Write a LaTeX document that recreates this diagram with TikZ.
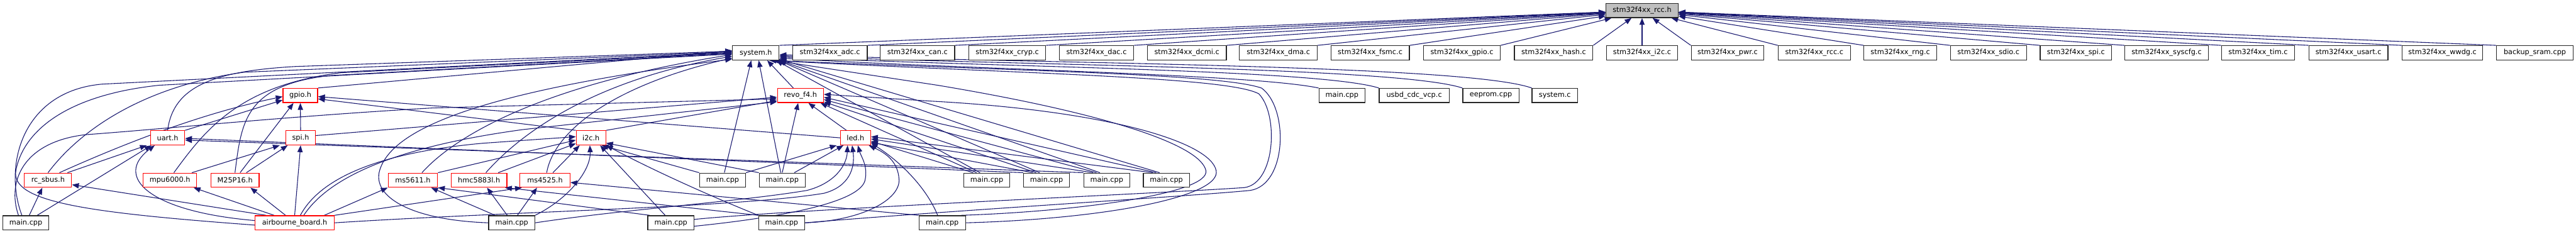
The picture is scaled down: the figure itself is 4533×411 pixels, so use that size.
\documentclass[tikz,border=0pt]{standalone}
\usepackage{fontspec}
\setmainfont{DejaVu Sans}
\usetikzlibrary{arrows.meta,backgrounds}
\definecolor{eblue}{HTML}{191970}
\begin{document}
\begin{tikzpicture}[x=0.5pt,y=-0.5pt,
  nb/.style={draw=black!85, line width=0.7pt, fill=white, minimum height=12.5pt, inner sep=0pt,
    font=\fontsize{6.25}{7}\selectfont, minimum width=#1*0.5pt},
  rb/.style={nb=#1, draw=red},
  edg/.style={draw=eblue, line width=0.6pt, -{Triangle[length=6pt,width=4.6pt]}}]
\useasboundingbox (0,0) rectangle (4533,411);
% ---- nodes ----
\node[nb=127, fill=black!25] (R) at (2889.5,18.5) {stm32f4xx\_rcc.h};
\node[nb=82] (S) at (1330,93) {system.h};
\node[nb=131] (adc) at (1460.5,93) {stm32f4xx\_adc.c};
\node[nb=131] (can) at (1614.5,93) {stm32f4xx\_can.c};
\node[nb=135] (cryp) at (1772.5,93) {stm32f4xx\_cryp.c};
\node[nb=131] (dac) at (1929.5,93) {stm32f4xx\_dac.c};
\node[nb=139] (dcmi) at (2088.5,93) {stm32f4xx\_dcmi.c};
\node[nb=137] (dma) at (2249.5,93) {stm32f4xx\_dma.c};
\node[nb=138] (fsmc) at (2411,93) {stm32f4xx\_fsmc.c};
\node[nb=135] (gpioc) at (2572.5,93) {stm32f4xx\_gpio.c};
\node[nb=138] (hash) at (2734,93) {stm32f4xx\_hash.c};
\node[nb=125] (itc) at (2889.5,93) {stm32f4xx\_i2c.c};
\node[nb=128] (pwr) at (3040,93) {stm32f4xx\_pwr.c};
\node[nb=127] (rccc) at (3192.5,93) {stm32f4xx\_rcc.c};
\node[nb=128] (rng) at (3344,93) {stm32f4xx\_rng.c};
\node[nb=134] (sdio) at (3499,93) {stm32f4xx\_sdio.c};
\node[nb=126] (spic) at (3653,93) {stm32f4xx\_spi.c};
\node[nb=147] (syscfg) at (3812.5,93) {stm32f4xx\_syscfg.c};
\node[nb=129] (tim) at (3973.5,93) {stm32f4xx\_tim.c};
\node[nb=139] (usart) at (4132.5,93) {stm32f4xx\_usart.c};
\node[nb=142] (wwdg) at (4298,93) {stm32f4xx\_wwdg.c};
\node[nb=135] (backup) at (4460.5,93) {backup\_sram.cpp};
% row 2
\node[rb=61] (gpioh) at (528.5,168) {gpio.h};
\node[rb=81] (revo) at (1408.5,168) {revo\_f4.h};
\node[nb=81] (mK) at (2361.5,168) {main.cpp};
\node[nb=123] (usbd) at (2488.5,168) {usbd\_cdc\_vcp.c};
\node[nb=99] (eeprom) at (2623.5,168) {eeprom.cpp};
\node[nb=80] (sysc) at (2736,168) {system.c};
% row 3
\node[rb=60] (uart) at (295,242.5) {uart.h};
\node[rb=52] (spih) at (529,242.5) {spi.h};
\node[rb=52] (itch) at (1040,242.5) {i2c.h};
\node[rb=53] (led) at (1505.5,242.5) {led.h};
% row 4
\node[rb=83] (rcsbus) at (84.5,317) {rc\_sbus.h};
\node[rb=94] (mpu) at (299,317) {mpu6000.h};
\node[rb=85] (mtf) at (413.5,317) {M25P16.h};
\node[rb=87] (msa) at (726.5,317) {ms5611.h};
\node[rb=98] (hmc) at (843,317) {hmc5883l.h};
\node[rb=88] (msb) at (959,317) {ms4525.h};
\node[nb=81] (mA) at (1271.5,317) {main.cpp};
\node[nb=81] (mB) at (1376.5,317) {main.cpp};
\node[nb=81] (mF) at (1736.5,317) {main.cpp};
\node[nb=81] (mG) at (1841.5,317) {main.cpp};
\node[nb=81] (mH) at (1947.5,317) {main.cpp};
\node[nb=81] (mI) at (2052.5,317) {main.cpp};
% row 5
\node[nb=81] (mL) at (45.5,392) {main.cpp};
\node[rb=139] (airb) at (518.5,392) {airbourne\_board.h};
\node[nb=81] (mC) at (900.5,392) {main.cpp};
\node[nb=81] (mD) at (1180.5,392) {main.cpp};
\node[nb=81] (mE) at (1375.5,392) {main.cpp};
\node[nb=82] (mJ) at (1658,392) {main.cpp};
% ---- edges ----
\begin{pgfonlayer}{background}
% into rcc.h
\foreach \n in {S,adc,can,cryp,dac,dcmi,dma,fsmc,gpioc,hash} \draw[edg] (\n.north east) -- (R);
\draw[edg] (itc) -- (R);
\foreach \n in {pwr,rccc,rng,sdio,spic,syscfg,tim,usart,wwdg,backup} \draw[edg] (\n.north west) -- (R);
% into system.h (bottom)
\draw[edg] (revo) -- ([xshift=10pt]S.south);
\draw[edg] (mA) -- ([xshift=-4pt]S.south);
\draw[edg] (mB) -- ([xshift=2.5pt]S.south);
\draw[edg] ([xshift=-6pt]mF.north) -- ([xshift=-3pt]S.south east);
\draw[edg] ([xshift=-6pt]mG.north) -- ([xshift=-1pt]S.south east);
\draw[edg] ([xshift=-6pt]mH.north) -- (S.south east);
\draw[edg] ([xshift=-6pt]mI.north) -- ([yshift=1pt]S.south east);
\draw[edg] (mK.north west) .. controls (2200,130) and (1700,122) .. ([yshift=2pt]S.south east);
\draw[edg] (usbd.north west) .. controls (2320,122) and (1750,118) .. ([yshift=3pt]S.south east);
\draw[edg] (eeprom.north west) .. controls (2460,118) and (1800,115) .. ([yshift=4pt]S.south east);
\draw[edg] (sysc.north west) .. controls (2580,114) and (1850,112) .. ([yshift=5pt]S.south east);
% into system.h (left)
\draw[edg] (gpioh.north east) -- ([yshift=2pt]S.west);
\draw[edg] (uart.north) .. controls (305,150) and (380,125) .. (520,117) -- ([yshift=1.5pt]S.west);
\draw[edg] (rcsbus.north) .. controls (140,230) and (250,152) .. (430,127) -- ([yshift=1pt]S.west);
\draw[edg] ([xshift=-3.5pt]mL.north) .. controls (5,290) and (40,160) .. (180,148) -- ([yshift=0.5pt]S.west);
\draw[edg] ([xshift=3.5pt]mpu.north) .. controls (360,230) and (420,150) .. (600,128) -- (S.west);
\draw[edg] (mtf.north) .. controls (425,215) and (430,150) .. (580,133) -- ([yshift=-0.5pt]S.west);
\draw[edg] ([xshift=8pt]msa.north) .. controls (800,240) and (950,150) .. ([yshift=-1.5pt]S.west);
\draw[edg] ([xshift=6pt]hmc.north) .. controls (920,230) and (1050,140) .. ([yshift=-3pt]S.west);
\draw[edg] ([xshift=1.5pt]msb.north) .. controls (975,230) and (1080,150) .. ([yshift=-4.5pt]S.west);
\draw[edg] ([yshift=-2pt]airb.west) .. controls (150,374) and (18,355) .. (28,300) .. controls (40,235) and (110,168) .. (280,150) -- ([yshift=-1pt]S.west);
\draw[edg] (mC.west) .. controls (720,387) and (655,345) .. (668,300) .. controls (690,225) and (850,160) .. ([yshift=-5.5pt]S.west);
% loops into system.h / revo_f4.h
\draw[edg] ([xshift=-4pt]mJ.north east) .. controls (1900,372) and (2130,340) .. (2122,300) .. controls (2112,255) and (1950,200) .. (1650,150) -- ([xshift=-5pt]S.south east);
\draw[edg] (mJ.east) .. controls (1950,385) and (2150,345) .. (2140,300) .. controls (2130,250) and (1950,195) .. (1640,178) -- ([yshift=1pt]revo.east);
\draw[edg] (mE.east) .. controls (1650,372) and (2100,345) .. (2200,335) .. controls (2265,325) and (2268,190) .. (2220,155) .. controls (2150,130) and (1800,125) .. ([xshift=-7pt]S.south east);
\draw[edg] ([yshift=3pt]mD.east) .. controls (1400,368) and (2050,340) .. (2190,330) .. controls (2245,322) and (2250,200) .. (2215,165) .. controls (2160,135) and (1800,130) .. ([xshift=-9pt]S.south east);
% into revo_f4.h
\draw[edg] ([xshift=-6.5pt]mL.north) .. controls (12,320) and (40,250) .. (150,237) .. controls (300,226) and (500,205) .. (760,190) -- ([yshift=-3pt]revo.west);
\draw[edg] ([yshift=2pt]spih.east) -- ([yshift=-1.5pt]revo.west);
\draw[edg] (itch.north east) -- ([yshift=-4.5pt]revo.west);
\draw[edg] ([xshift=8pt]airb.north) .. controls (580,310) and (700,258) .. (920,228) -- ([yshift=-5.5pt]revo.west);
\draw[edg] (mB.north) -- ([xshift=-2pt]revo.south);
\draw[edg] ([xshift=-8pt]led.north) -- ([xshift=7pt]revo.south);
\draw[edg] ([xshift=-9pt]mF.north) -- ([xshift=-3pt]revo.south east);
\draw[edg] ([xshift=-9pt]mG.north) -- ([yshift=1pt]revo.south east);
\draw[edg] ([xshift=-9pt]mH.north) -- ([yshift=3pt]revo.south east);
\draw[edg] ([xshift=-9pt]mI.north) -- ([yshift=5pt]revo.south east);
% into led.h
\draw[edg] (mA.north east) -- ([xshift=-3pt]led.south west);
\draw[edg] ([xshift=-10pt]mB.north east) -- ([xshift=3pt]led.south west);
\draw[edg] (mC.east) .. controls (1100,368) and (1300,355) .. (1420,335) .. controls (1470,322) and (1490,290) .. ([xshift=-7pt]led.south);
\draw[edg] (airb.east) .. controls (900,372) and (1300,365) .. (1450,340) .. controls (1495,328) and (1505,295) .. ([xshift=-3pt]led.south);
\draw[edg] ([yshift=-3pt]mD.east) .. controls (1350,385) and (1510,360) .. (1522,318) .. controls (1528,292) and (1515,275) .. ([xshift=2pt]led.south);
\draw[edg] (mE.east) .. controls (1520,388) and (1585,350) .. (1582,315) .. controls (1580,285) and (1560,270) .. ([xshift=-2pt]led.south east);
\draw[edg] ([xshift=-4pt]mJ.north) .. controls (1630,330) and (1585,285) .. ([yshift=2pt]led.south east);
\draw[edg] ([xshift=-12pt]mF.north) -- ([yshift=-3pt]led.east);
\draw[edg] ([xshift=-12pt]mG.north) -- ([yshift=-4pt]led.east);
\draw[edg] ([xshift=-12pt]mH.north) -- ([yshift=-1pt]led.east);
\draw[edg] ([xshift=-12pt]mI.north) -- ([yshift=1pt]led.east);
% into gpio.h
\draw[edg] (led.west) -- ([yshift=-1pt]gpioh.east);
\draw[edg] (itch.north west) -- ([yshift=-3pt]gpioh.east);
\draw[edg] (uart.north east) -- ([yshift=-4pt]gpioh.west);
\draw[edg] ([xshift=-11pt]rcsbus.north east) .. controls (280,225) and (400,190) .. ([yshift=-1pt]gpioh.west);
\draw[edg] ([xshift=4.5pt]mtf.north) -- ([xshift=-6pt]gpioh.south);
\draw[edg] (spih.north) -- (gpioh.south);
% into i2c.h
\draw[edg] (msa.north east) -- ([yshift=-2pt]itch.west);
\draw[edg] ([xshift=-8pt]hmc.north east) -- ([yshift=-5pt]itch.west);
\draw[edg] ([xshift=7pt]msb.north) -- ([xshift=-10pt]itch.south);
\draw[edg] (mC.north east) .. controls (1000,350) and (1040,300) .. ([xshift=-1pt]itch.south);
\draw[edg] ([xshift=-5pt]mD.north) -- ([xshift=8pt]itch.south);
\draw[edg] (mA.north west) -- ([xshift=-4pt]itch.south east);
\draw[edg] (mB.north west) -- ([yshift=2pt]itch.south east);
\draw[edg] (mE.north west) .. controls (1250,345) and (1150,300) .. (itch.south east);
\draw[edg] ([xshift=5pt]airb.north) .. controls (560,320) and (650,270) .. (850,252) -- ([yshift=1pt]itch.west);
% into ms5611.h / hmc5883l.h / ms4525.h
\draw[edg] ([xshift=-9pt]airb.north east) -- (msa.south west);
\draw[edg] ([xshift=6pt]mC.north west) -- ([xshift=-6pt]msa.south east);
\draw[edg] ([xshift=2pt]mD.north west) -- (msa.south east);
\draw[edg] ([xshift=-4pt]mC.north) -- ([xshift=7pt]hmc.south);
\draw[edg] (mE.north west) -- ([xshift=-2pt]hmc.south east);
\draw[edg] (airb.north east) -- ([xshift=2pt]msb.south west);
\draw[edg] ([xshift=5pt]mC.north) -- ([xshift=-7pt]msb.south);
\draw[edg] (mJ.north west) -- ([yshift=-2pt]msb.east);
% into spi.h
\draw[edg] ([xshift=-4.5pt]mpu.north east) -- ([xshift=-5pt]spih.south west);
\draw[edg] ([xshift=10pt]mtf.north) -- ([xshift=2pt]spih.south west);
\draw[edg] (airb.north) -- (spih.south);
% into uart.h
\draw[edg] ([xshift=-4pt]rcsbus.north east) -- ([xshift=-3pt]uart.south west);
\draw[edg] ([xshift=10pt]mL.north) -- ([xshift=1pt]uart.south west);
\draw[edg] ([yshift=2pt]airb.west) .. controls (260,372) and (200,310) .. ([xshift=4pt]uart.south west);
\draw[edg] (mG.north west) -- ([yshift=-0.5pt]uart.east);
\draw[edg] (mH.north west) -- ([yshift=-2pt]uart.east);
% into rc_sbus.h, mpu6000.h, M25P16.h
\draw[edg] ([xshift=3pt]mL.north) -- ([xshift=-5pt]rcsbus.south);
\draw[edg] ([xshift=10pt]airb.north west) -- ([yshift=-4pt]rcsbus.east);
\draw[edg] ([xshift=17pt]airb.north west) -- ([xshift=-3pt]mpu.south east);
\draw[edg] ([xshift=-8pt]airb.north) -- ([xshift=-8pt]mtf.south east);
\end{pgfonlayer}
\end{tikzpicture}
\end{document}
